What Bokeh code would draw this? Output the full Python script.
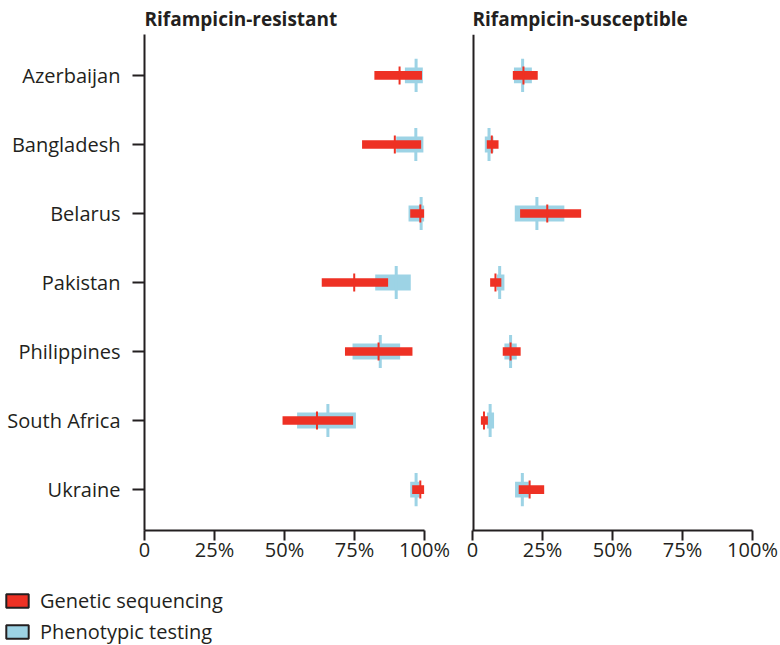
from bokeh.plotting import figure
from bokeh.models import (FactorRange, Range1d, FixedTicker, Legend, Span,
                          LegendItem, ColumnDataSource)
from bokeh.layouts import row, column
from bokeh.embed import file_html
from bokeh.resources import INLINE

countries = ["Azerbaijan", "Bangladesh", "Belarus", "Pakistan",
             "Philippines", "South Africa", "Ukraine"]

# Rifampicin-resistant (%)
res_gen_est = [91.1, 89.4, 98.5, 74.9, 83.6, 61.6, 98.5]
res_gen_lo = [82.1, 77.7, 94.9, 63.3, 71.6, 49.3, 95.6]
res_gen_hi = [99.1, 98.8, 99.9, 87.0, 95.7, 74.5, 99.9]
res_phe_est = [97.0, 96.9, 98.8, 89.9, 84.2, 65.5, 97.0]
res_phe_lo = [93.0, 89.9, 94.3, 82.4, 74.3, 54.5, 94.9]
res_phe_hi = [99.4, 99.6, 99.9, 95.1, 91.3, 75.5, 98.2]

# Rifampicin-susceptible (%)
sus_gen_est = [18.2, 6.9, 26.7, 8.2, 13.6, 4.1, 20.4]
sus_gen_lo = [14.4, 5.1, 17.0, 6.3, 10.8, 3.0, 16.5]
sus_gen_hi = [23.3, 9.3, 38.8, 10.3, 17.2, 5.5, 25.6]
sus_phe_est = [17.9, 5.9, 23.0, 9.7, 13.6, 6.3, 17.8]
sus_phe_lo = [14.8, 4.4, 15.1, 8.7, 11.4, 5.2, 15.2]
sus_phe_hi = [21.2, 7.5, 32.8, 11.4, 15.8, 7.7, 20.1]

tick_values = [0, 25, 50, 75, 100]
tick_labels = ["0", "25%", "50%", "75%", "100%"]

titles = ["Rifampicin-resistant", "Rifampicin-susceptible"]
legend_labels = ["Genetic sequencing", "Phenotypic testing"]

RED = "#EE3124"
BLUE = "#9DD3E5"
INK = "#231F20"
FONT = "Open Sans"
H = 571
FRAME_BOTTOM = 530


def panel(title, gl, gh, ge, pl, ph, pe, width, mbl, mbr, show_y):
    p = figure(width=width, height=H,
               x_range=Range1d(0, 100),
               y_range=FactorRange(factors=countries[::-1], range_padding=0.093,
                                   range_padding_units="absolute"),
               output_backend="svg", toolbar_location=None,
               min_border_left=mbl, min_border_right=mbr,
               min_border_top=33, min_border_bottom=H - FRAME_BOTTOM)
    src = ColumnDataSource(dict(country=countries, gl=gl, gh=gh, ge=ge,
                                pl=pl, ph=ph, pe=pe))
    p.hbar(y="country", left="pl", right="ph", height=0.23,
           fill_color=BLUE, line_color=None, source=src)
    p.rect(x="pe", y="country", width=3, width_units="screen", height=0.48,
           fill_color=BLUE, line_color=None, source=src)
    p.hbar(y="country", left="gl", right="gh", height=0.125,
           fill_color=RED, line_color=None, source=src)
    p.rect(x="ge", y="country", width=2, width_units="screen", height=0.26,
           fill_color=RED, line_color=None, source=src)

    p.title.text = title
    p.title.text_font = FONT
    p.title.text_font_style = "bold"
    p.title.text_font_size = "19px"
    p.title.text_color = INK
    p.title.align = "left"
    p.title.offset = 0
    p.title.standoff = 6

    p.grid.visible = False
    p.outline_line_color = None
    p.background_fill_color = None
    p.border_fill_color = None

    xa = p.xaxis[0]
    xa.ticker = FixedTicker(ticks=tick_values)
    xa.major_label_overrides = {v: l for v, l in zip(tick_values, tick_labels)}
    xa.major_tick_in = 0
    xa.major_tick_out = 10
    xa.minor_tick_line_color = None
    xa.axis_line_width = 2
    xa.axis_line_color = INK
    xa.major_tick_line_width = 2
    xa.major_tick_line_color = INK
    xa.major_label_text_font = FONT
    xa.major_label_text_font_size = "20px"
    xa.major_label_text_color = INK
    xa.major_label_standoff = -5

    ya = p.yaxis[0]
    if show_y:
        ya.major_tick_in = 0
        ya.major_tick_out = 12
        ya.axis_line_width = 2
        ya.axis_line_color = INK
        ya.major_tick_line_width = 2
        ya.major_tick_line_color = INK
        ya.major_label_text_font = FONT
        ya.major_label_text_font_size = "20px"
        ya.major_label_text_color = INK
        ya.major_label_standoff = 12
    else:
        ya.visible = False
        # vertical baseline (half of it is clipped by the frame edge)
        p.add_layout(Span(location=0, dimension="height", line_width=4,
                          line_color=INK))
    return p, src


p1, src1 = panel(titles[0], res_gen_lo, res_gen_hi, res_gen_est,
                 res_phe_lo, res_phe_hi, res_phe_est, 464, 144, 40, True)
p2, src2 = panel(titles[1], sus_gen_lo, sus_gen_hi, sus_gen_est,
                 sus_phe_lo, sus_phe_hi, sus_phe_est, 316, 8, 28, False)

# legend strip below the panels
p3 = figure(width=780, height=645 - H, x_range=Range1d(0, 100),
            y_range=FactorRange(factors=countries[::-1]),
            output_backend="svg", toolbar_location=None,
            min_border_left=0, min_border_right=0, min_border_top=0,
            min_border_bottom=0, x_axis_type=None, y_axis_type=None)
p3.grid.visible = False
p3.outline_line_color = None
p3.background_fill_color = None
p3.border_fill_color = None
lg_gen = p3.hbar(y="country", left="gl", right="gh", height=0.125,
                 fill_color=RED, line_color=INK, line_width=2, source=src1,
                 visible=False)
lg_phe = p3.hbar(y="country", left="pl", right="ph", height=0.23,
                 fill_color=BLUE, line_color=INK, line_width=2, source=src1,
                 visible=False)
leg = Legend(items=[LegendItem(label=legend_labels[0], renderers=[lg_gen]),
                    LegendItem(label=legend_labels[1], renderers=[lg_phe])],
             location=(3, 0), orientation="vertical",
             glyph_width=28, glyph_height=17, label_height=17,
             label_standoff=9, spacing=4, padding=0, margin=0,
             border_line_color=None, background_fill_alpha=0,
             inactive_fill_alpha=0,
             label_text_font=FONT, label_text_font_size="20px",
             label_text_color=INK)
p3.add_layout(leg)

layout = column(row(p1, p2), p3)
open("out.html", "w").write(file_html(layout, INLINE))
